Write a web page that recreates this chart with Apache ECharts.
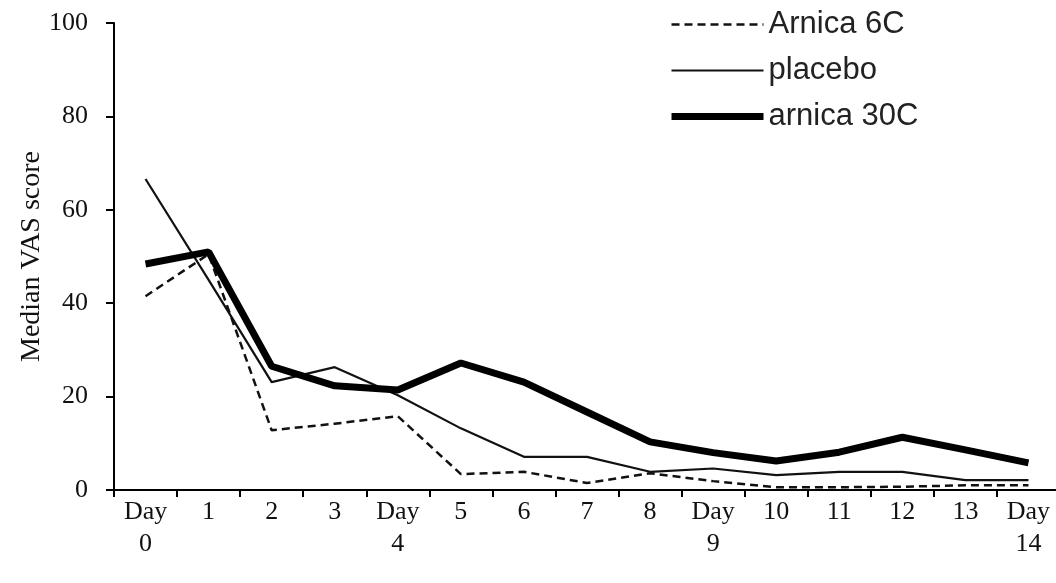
<!DOCTYPE html>
<html>
<head>
<meta charset="utf-8">
<style>
  html, body { margin: 0; padding: 0; background: #fff; }
  #chart { width: 1056px; height: 583px; }
</style>
<script src="https://cdn.jsdelivr.net/npm/echarts@6/dist/echarts.min.js"></script>
</head>
<body>
<div id="chart"></div>
<script>
// x categories (Day 0 .. Day 14)
const days = ['Day\n0', '1', '2', '3', 'Day\n4', '5', '6', '7', '8', 'Day\n9', '10', '11', '12', '13', 'Day\n14']
const seriesNames = ['Arnica 6C', 'placebo', 'arnica 30C']

// median VAS score
const arnica6C = [41.5, 50.5, 12.8, 14.2, 15.8, 3.4, 3.9, 1.5, 3.6, 1.9, 0.6, 0.6, 0.7, 1.0, 1.0]
const placebo = [66.6, 45, 23.1, 26.3, 20.3, 13.2, 7.1, 7.1, 3.9, 4.6, 3.2, 3.9, 3.9, 2.1, 2.1]
const arnica30C = [48.4, 51, 26.5, 22.3, 21.4, 27.2, 23.1, 16.7, 10.3, 8, 6.2, 8.1, 11.3, 8.6, 5.8]

const serif = '"Liberation Serif", "DejaVu Serif", serif'
const sans = '"Liberation Sans", Arial, sans-serif'

const lineStyles = [
  { color: '#111', width: 2.5, type: [8, 5] },
  { color: '#111', width: 2.2, type: 'solid' },
  { color: '#000', width: 7, type: 'solid' }
]
const seriesData = [arnica6C, placebo, arnica30C]

const chart = echarts.init(document.getElementById('chart'))
chart.setOption({
  animation: false,
  backgroundColor: '#fff',
  grid: { left: 114, top: 23, bottom: 93, width: 946, outerBoundsMode: 'none' },
  legend: {
    orient: 'vertical',
    left: 668,
    top: 9,
    padding: 0,
    itemWidth: 92,
    itemHeight: 14,
    itemGap: 15,
    textStyle: { fontFamily: sans, fontSize: 31, color: '#222', lineHeight: 30 },
    data: seriesNames.map((name, i) => ({
      name: name,
      itemStyle: { opacity: 0 },
      lineStyle: lineStyles[i]
    }))
  },
  xAxis: {
    type: 'category',
    data: days,
    boundaryGap: true,
    axisLine: { lineStyle: { color: '#000', width: 2 } },
    axisTick: { show: true, inside: false, length: 7, lineStyle: { color: '#000', width: 2 } },
    axisLabel: {
      interval: 0,
      margin: 6,
      fontFamily: serif,
      fontSize: 26,
      lineHeight: 32,
      color: '#111'
    }
  },
  yAxis: {
    type: 'value',
    min: 0,
    max: 100,
    interval: 20,
    name: 'Median VAS score',
    nameLocation: 'middle',
    nameGap: 68,
    nameMoveOverlap: false,
    nameTextStyle: { fontFamily: serif, fontSize: 28, color: '#111' },
    splitLine: { show: false },
    axisLine: { show: true, lineStyle: { color: '#000', width: 2 } },
    axisTick: { show: true, inside: false, length: 8, lineStyle: { color: '#000', width: 2 } },
    axisLabel: { fontFamily: serif, fontSize: 26, margin: 26, color: '#111' }
  },
  series: seriesNames.map((name, i) => ({
    name: name,
    type: 'line',
    data: seriesData[i],
    symbol: 'none',
    lineStyle: lineStyles[i],
    itemStyle: { color: lineStyles[i].color },
    z: 2 + i
  }))
})
</script>
</body>
</html>
